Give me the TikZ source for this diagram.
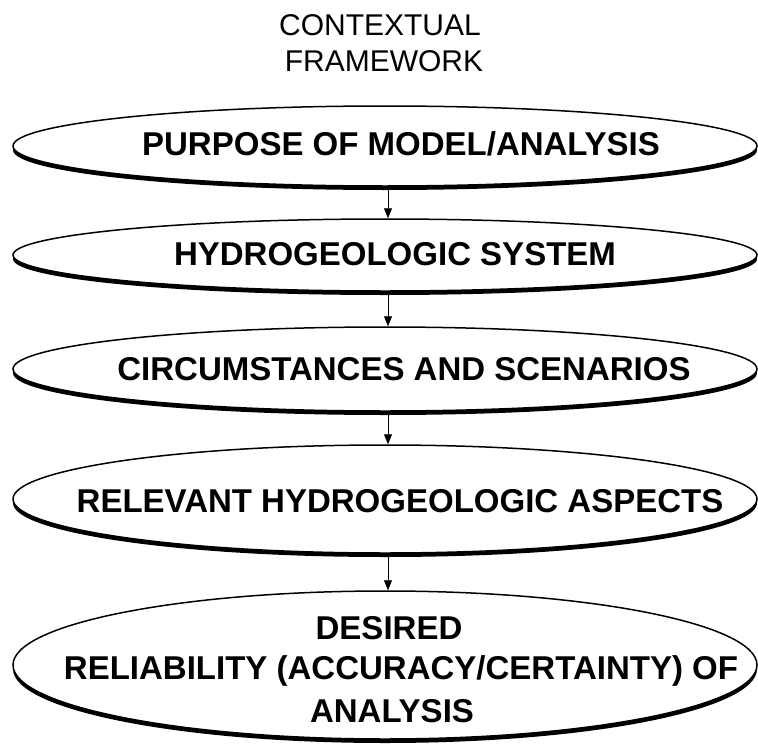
\documentclass[tikz,border=0pt]{standalone}
\usepackage{fontspec}
\setmainfont{Liberation Sans}
\usetikzlibrary{shapes.geometric,shadows,arrows.meta}
\begin{document}
\begin{tikzpicture}[x=1pt,y=-1pt,
  oval/.style={ellipse,draw=black,line width=1.5pt,fill=white,inner sep=0pt,
    minimum width=744pt,
    drop shadow={shadow xshift=0pt,shadow yshift=-4pt,fill=black,opacity=1}},
  lbl/.style={anchor=base,inner sep=0pt,font=\fontsize{33}{40}\selectfont\bfseries},
  ttl/.style={anchor=base,inner sep=0pt,font=\fontsize{30}{36}\selectfont},
  link/.style={line width=0.9pt,-{Triangle[width=8pt,length=10pt]}}]
\useasboundingbox (0,0) rectangle (758,744);
\fill[white] (0,0) rectangle (758,744);
% title
\node[ttl] (t0a) at (380,35) {CONTEXTUAL};
\node[ttl] (t0b) at (384,71) {FRAMEWORK};
% ovals
\node[oval,minimum height=80pt]  (e1) at (385,146) {};
\node[oval,minimum height=72pt]  (e2) at (385,255) {};
\node[oval,minimum height=84pt]  (e3) at (385,369) {};
\node[oval,minimum height=108pt] (e4) at (385,499) {};
\node[oval,minimum height=148pt] (e5) at (385,665) {};
% texts
\node[lbl] (t1) at (401,155) {PURPOSE OF MODEL/ANALYSIS};
\node[lbl] (t2) at (395,265) {HYDROGEOLOGIC SYSTEM};
\node[lbl] (t3) at (404,380) {CIRCUMSTANCES AND SCENARIOS};
\node[lbl] (t4) at (400,512) {RELEVANT HYDROGEOLOGIC ASPECTS};
\node[lbl] (t5a) at (389,639) {DESIRED};
\node[lbl] (t5b) at (401,679) {RELIABILITY (ACCURACY/CERTAINTY) OF};
\node[lbl] (t5c) at (392,722) {ANALYSIS};
% arrows
\draw[link] ([xshift=3pt,yshift=-2pt]e1.south) -- ([xshift=3pt]e2.north);
\draw[link] ([xshift=3pt,yshift=-2pt]e2.south) -- ([xshift=3pt]e3.north);
\draw[link] ([xshift=3pt,yshift=-2pt]e3.south) -- ([xshift=3pt]e4.north);
\draw[link] ([xshift=3pt,yshift=-2pt]e4.south) -- ([xshift=3pt]e5.north);
\end{tikzpicture}
\end{document}
